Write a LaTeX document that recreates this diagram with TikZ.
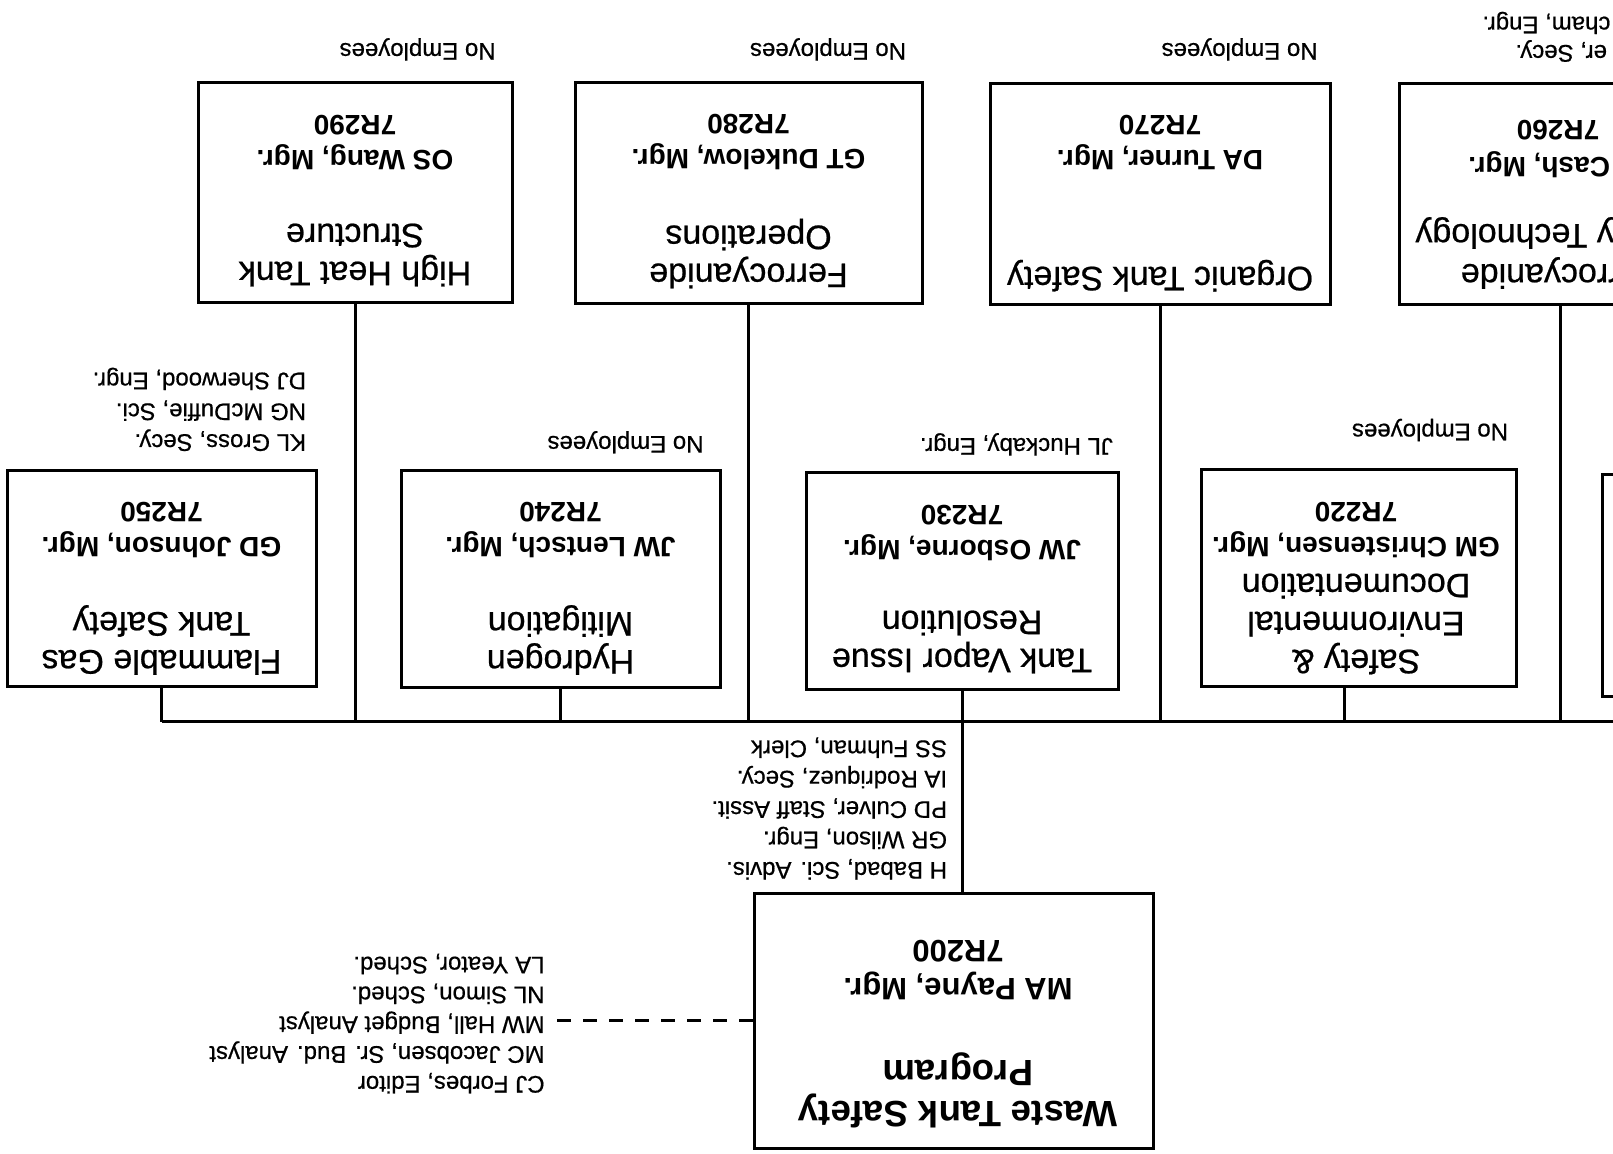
\documentclass[tikz,border=0pt]{standalone}
\usepackage{fontspec}
\setmainfont{Liberation Sans}
\newfontfamily\heavyfont{Liberation Sans}[FakeBold=0.6]
\begin{document}
\begin{tikzpicture}[x={(0.5pt,0)}, y={(0,-0.5pt)},
  boxst/.style={draw, line width=1.5pt, inner sep=0pt},
  ttl/.style={rotate=180, align=center, font=\heavyfont\fontsize{17}{19}\selectfont, inner sep=0pt},
  mgr/.style={rotate=180, align=center, font=\fontsize{14}{17.5}\selectfont\bfseries, inner sep=0pt},
  lst/.style={rotate=180, align=left, font=\heavyfont\fontsize{12}{15.2}\selectfont, inner sep=0pt, anchor=west},
  lbl/.style={rotate=180, font=\heavyfont\fontsize{12}{14}\selectfont, inner sep=0pt},
  conn/.style={line width=1.5pt},
  dashconn/.style={line width=1.1pt, dash pattern=on 7pt off 6pt}]
\useasboundingbox (0,0) rectangle (1613,1154);
\clip (0,0) rectangle (1613,1154);
\fill[white] (0,0) rectangle (1613,1154);

% top row boxes
\node[boxst, minimum width=157pt, minimum height=110pt] (hh) at (355,193) {};
\node[boxst, minimum width=173.5pt, minimum height=110.5pt] (fo) at (748.5,193.5) {};
\node[boxst, minimum width=170pt, minimum height=110.5pt] (ot) at (1160,194.5) {};
\node[boxst, minimum width=161pt, minimum height=110.5pt] (ft) at (1560,194.5) {};
% second row boxes
\node[boxst, minimum width=154.5pt, minimum height=108pt] (fg) at (161.5,579) {};
\node[boxst, minimum width=159.5pt, minimum height=108.5pt] (hy) at (560.5,579.5) {};
\node[boxst, minimum width=156pt, minimum height=108.5pt] (tv) at (962,581.5) {};
\node[boxst, minimum width=157.5pt, minimum height=108.5pt] (se) at (1358.5,578.5) {};
\node[boxst, minimum width=89pt, minimum height=111pt] (px) at (1691,586) {};
% main box
\node[boxst, minimum width=199.5pt, minimum height=127.5pt] (wt) at (953.5,1020.5) {};

% connectors
\coordinate (bar) at (0,722);
\coordinate (barend) at (1650,722);
\draw[conn] (fg.south |- bar) -- (barend);
\draw[conn] (fg.south) -- (fg.south |- bar);
\draw[conn] (hy.south) -- (hy.south |- bar);
\draw[conn] (se.south) ++(-7pt,0) coordinate (sec) -- (sec |- bar);
\draw[conn] (hh.south) -- (hh.south |- bar);
\draw[conn] (fo.south) -- (fo.south |- bar);
\draw[conn] (ot.south) -- (ot.south |- bar);
\draw[conn] (ft.south) -- (ft.south |- bar);
\draw[conn] (tv.south) -- (tv.south |- wt.north);
\coordinate (dashend) at (553,1020.5);
\draw[dashconn] (wt.west) -- (dashend);

% box texts
\node[ttl] (hht) at (355,255) {High Heat Tank\\Structure};
\node[mgr] (hhm) at (355,142.5) {OS Wang, Mgr.\\7R290};
\node[ttl] (fot) at (748.5,253.5) {Ferrocyanide\\Operations};
\node[mgr] (fom) at (748.5,142.5) {GT Dukelow, Mgr.\\7R280};
\node[ttl] (ott) at (1160,275.7) {Organic Tank Safety};
\node[mgr] (otm) at (1160,142.5) {DA Turner, Mgr.\\7R270};
\node[ttl] (ftt1) at (1560,273) {Ferrocyanide};
\node[ttl, anchor=east] (ftt2) at (1415,233) {y Technology};
\node[mgr, anchor=east] (ftm1) at (1468,165) {Cash, Mgr.};
\node[mgr] (ftm2) at (1558,130) {7R260};

\node[ttl] (fgt) at (161.5,640) {Flammable Gas\\Tank Safety};
\node[mgr] (fgm) at (161.5,530) {GD Johnson, Mgr.\\7R250};
\node[ttl] (hyt) at (560.5,640) {Hydrogen\\Mitigation};
\node[mgr] (hym) at (560.5,530) {JW Lentsch, Mgr.\\7R240};
\node[ttl] (tvt) at (962,642) {Tank Vapor Issue\\Resolution};
\node[mgr] (tvm) at (962,532.5) {JW Osborne, Mgr.\\7R230};
\node[ttl] (set) at (1356,624) {Safety \&\\Environmental\\Documentation};
\node[mgr] (sem) at (1356,530) {GM Christensen, Mgr.\\7R220};

\node[rotate=180, align=center, inner sep=0pt, font=\fontsize{18.3}{20.5}\selectfont\bfseries] (wtt) at (958,1090.5) {Waste Tank Safety\\Program};
\node[rotate=180, align=center, inner sep=0pt, font=\fontsize{15.5}{19}\selectfont\bfseries] (wtm) at (958,970.5) {MA Payne, Mgr.\\7R200};

% lists
\node[lst] (staff) at (947.5,808.5) {H Babad, Sci. Advis.\\GR Wilson, Engr.\\PD Culver, Staff Assit.\\IA Rodriquez, Secy.\\SS Fuhman, Clerk};
\node[lst, font=\heavyfont\fontsize{12}{14.9}\selectfont] (budget) at (545,1023.6) {CJ Forbes, Editor\\MC Jacobsen, Sr. Bud. Analyst\\MW Hall, Budget Analyst\\NL Simon, Sched.\\LA Yeator, Sched.};
\node[lst, font=\heavyfont\fontsize{12}{15.4}\selectfont] (fgl) at (306.5,409.4) {KL Gross, Secy.\\NG McDuffie, Sci.\\DJ Sherwood, Engr.};

% labels
\node[lbl] (ne1) at (417.6,49.4) {No Employees};
\node[lbl] (ne2) at (828,49.4) {No Employees};
\node[lbl] (ne3) at (1239.6,49.4) {No Employees};
\node[lbl] (ne4) at (625.5,442.3) {No Employees};
\node[lbl] (ne5) at (1430,430) {No Employees};
\node[lbl] (jlh) at (1016.4,444.4) {JL Huckaby, Engr.};
\node[lbl, anchor=east] (ftl1) at (1515,51) {er, Secy.};
\node[lbl, anchor=east] (ftl2) at (1482,23) {cham, Engr.};
\end{tikzpicture}
\end{document}
